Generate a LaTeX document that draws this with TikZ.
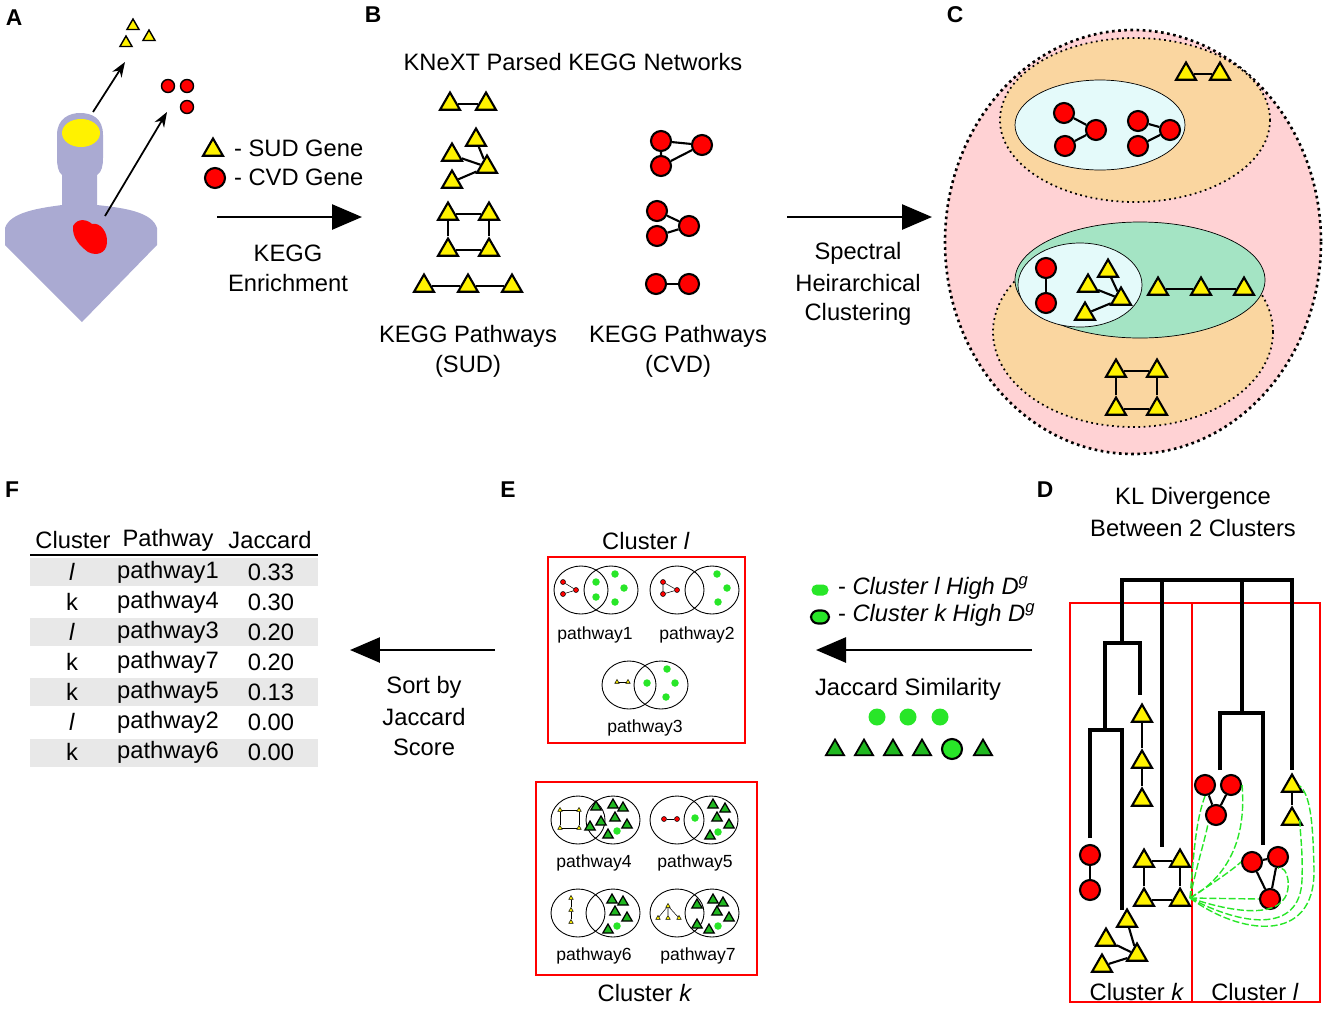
\documentclass[tikz,border=0pt]{standalone}
\usepackage{fontspec}
\setmainfont{Liberation Sans}
\usetikzlibrary{shapes.geometric,arrows.meta,positioning}
\definecolor{body}{RGB}{170,170,210}
\definecolor{pinkbg}{RGB}{255,210,212}
\definecolor{orangebg}{RGB}{250,214,160}
\definecolor{cyanbg}{RGB}{228,250,250}
\definecolor{greenbg}{RGB}{164,228,196}
\definecolor{dotgreen}{RGB}{40,230,40}
\definecolor{rowgray}{RGB}{232,232,232}
\tikzset{
  sud/.style={regular polygon,regular polygon sides=3,draw=black,fill=yellow,line width=1.2pt,minimum size=0.46cm,inner sep=0pt},
  cvd/.style={circle,draw=black,fill=red,line width=1.2pt,minimum size=0.4cm,inner sep=0pt},
  small sud/.style={sud,minimum size=0.28cm,line width=0.8pt},
  small cvd/.style={cvd,minimum size=0.26cm,line width=0.8pt},
  tiny sud/.style={sud,minimum size=0.1cm,line width=0.3pt},
  tiny cvd/.style={cvd,minimum size=0.1cm,line width=0.3pt},
  gtri/.style={regular polygon,regular polygon sides=3,draw=black,fill=dotgreen!80!black,line width=0.7pt,minimum size=0.24cm,inner sep=0pt},
  gdot/.style={circle,fill=dotgreen,minimum size=0.15cm,inner sep=0pt},
  big gdot/.style={circle,fill=dotgreen,minimum size=0.34cm,inner sep=0pt},
  big gtri/.style={gtri,minimum size=0.42cm,line width=1pt},
  edge/.style={line width=1.2pt},
  tiny edge/.style={line width=0.3pt},
  big arrow/.style={line width=1.5pt,-{Triangle[length=0.6cm,width=0.5cm]}},
  panel/.style={font=\bfseries\fontsize{13}{15}\selectfont},
  lbl/.style={font=\fontsize{13.5}{16}\selectfont,inner sep=1pt},
  small lbl/.style={font=\fontsize{10}{12}\selectfont,inner sep=1pt},
  venn/.style={draw=black,line width=0.5pt},
  redbox/.style={draw=red,line width=0.8pt},
  dendro/.style={line width=2.2pt},
  gdash/.style={dotgreen,line width=0.8pt,dash pattern=on 4pt off 1.5pt}
}
\begin{document}
\begin{tikzpicture}[x=0.02cm,y=-0.02cm]
\useasboundingbox (0,0) rectangle (1325,1008);

% A
\node[panel] (labA) at (14,18) {A};
\fill[body] (82,322) -- (5,245) -- (5,228) .. controls (10,212) and (40,208) .. (62,205) -- (62,175) .. controls (58,172) and (57,165) .. (57,158) -- (57,135) .. controls (57,118) and (70,113) .. (80,113) .. controls (92,113) and (103,118) .. (103,135) -- (103,158) .. controls (103,165) and (102,172) .. (97,175) -- (97,205) .. controls (125,208) and (152,212) .. (157,228) -- (157,245) -- cycle;
\fill[yellow] (81,133) ellipse (19 and 14);
\fill[red] (73,226) .. controls (78,217) and (88,220) .. (92,224) .. controls (100,222) and (108,232) .. (107,243) .. controls (106,254) and (96,256) .. (88,252) .. controls (80,246) and (72,238) .. (73,226);
\coordinate (brain) at (93,112);
\coordinate (heart) at (105,216);
\node[small sud] (a1) at (133,26) {};
\node[small sud] (a2) at (149,37) {};
\node[small sud] (a3) at (126,43) {};
\node[small cvd] (a4) at (168,86) {};
\node[small cvd] (a5) at (187,86) {};
\node[small cvd] (a6) at (187,107) {};
\draw[line width=1pt,-{Stealth[length=0.3cm,width=0.22cm]}] (brain) -- (125,62);
\draw[line width=1pt,-{Stealth[length=0.3cm,width=0.22cm]}] (heart) -- (167,112);

\node[sud] (legS) at (213,150) {};
\node[lbl,anchor=west] (legStxt) at (232,148) {- SUD Gene};
\node[cvd] (legC) at (215,178) {};
\node[lbl,anchor=west] (legCtxt) at (232,177) {- CVD Gene};
\coordinate (ab1) at (217,217);
\coordinate (ab2) at (362,217);
\draw[big arrow] (ab1) -- (ab2);
\node[lbl] (kegg) at (288,253) {KEGG};
\node[lbl] (enr) at (288,283) {Enrichment};

% B
\node[panel] (labB) at (373,15) {B};
\node[lbl] (knext) at (573,62) {KNeXT Parsed KEGG Networks};
\node[sud] (b1) at (450,104) {};
\node[sud] (b2) at (486,104) {};
\draw[edge] (b1) -- (b2);
\node[sud] (b3) at (476,140) {};
\node[sud] (b4) at (452,155) {};
\node[sud] (b5) at (487,167) {};
\node[sud] (b6) at (452,182) {};
\draw[edge] (b4) -- (b5) (b3) -- (b5) (b5) -- (b6);
\node[sud] (b7) at (448,214) {};
\node[sud] (b8) at (489,214) {};
\node[sud] (b9) at (448,250) {};
\node[sud] (b10) at (489,250) {};
\draw[edge] (b7) -- (b8) -- (b10) -- (b9) -- (b7);
\node[sud] (b11) at (424,286) {};
\node[sud] (b12) at (468,286) {};
\node[sud] (b13) at (512,286) {};
\draw[edge] (b11) -- (b12) -- (b13);
\node[lbl] (kps) at (468,336) {KEGG Pathways};
\node[lbl] (kps2) at (468,366) {(SUD)};
\node[cvd] (c1) at (661,141) {};
\node[cvd] (c2) at (702,145) {};
\node[cvd] (c3) at (661,166) {};
\draw[edge] (c1) -- (c2) -- (c3) -- (c1);
\node[cvd] (c4) at (657,211) {};
\node[cvd] (c5) at (689,226) {};
\node[cvd] (c6) at (657,236) {};
\draw[edge] (c4) -- (c5) -- (c6);
\node[cvd] (c7) at (656,284) {};
\node[cvd] (c8) at (689,284) {};
\draw[edge] (c7) -- (c8);
\node[lbl] (kpc) at (678,336) {KEGG Pathways};
\node[lbl] (kpc2) at (678,366) {(CVD)};
\coordinate (bc1) at (787,217);
\coordinate (bc2) at (932,217);
\draw[big arrow] (bc1) -- (bc2);
\node[lbl] (spec) at (858,253) {Spectral};
\node[lbl] (heir) at (858,283) {Heirarchical};
\node[lbl] (clus) at (858,314) {Clustering};

% C
\node[panel] (labC) at (955,15) {C};
\filldraw[fill=pinkbg,draw=black,line width=1.5pt,dotted] (1133,242) ellipse (188 and 212);
\filldraw[fill=orangebg,draw=black,line width=1pt,dotted] (1135,120) ellipse (135 and 82);
\filldraw[fill=cyanbg,draw=black,line width=0.4pt] (1100,125) ellipse (85 and 45);
\filldraw[fill=orangebg,draw=black,line width=1pt,dotted] (1133,332) ellipse (140 and 95);
\filldraw[fill=greenbg,draw=black,line width=0.4pt] (1140,280) ellipse (125 and 58);
\filldraw[fill=cyanbg,draw=black,line width=0.4pt] (1080,285) ellipse (62 and 42);
\node[cvd] (u1) at (1064,113) {};
\node[cvd] (u2) at (1096,130) {};
\node[cvd] (u3) at (1065,146) {};
\draw[edge] (u1) -- (u2) -- (u3);
\node[cvd] (u4) at (1138,121) {};
\node[cvd] (u5) at (1170,130) {};
\node[cvd] (u6) at (1138,146) {};
\draw[edge] (u4) -- (u5) -- (u6);
\node[sud] (u7) at (1186,74) {};
\node[sud] (u8) at (1220,74) {};
\draw[edge] (u7) -- (u8);
\node[cvd] (l1) at (1046,268) {};
\node[cvd] (l2) at (1046,303) {};
\draw[edge] (l1) -- (l2);
\node[sud] (l3) at (1108,271) {};
\node[sud] (l4) at (1088,286) {};
\node[sud] (l5) at (1121,299) {};
\node[sud] (l6) at (1085,314) {};
\draw[edge] (l4) -- (l5) (l3) -- (l5) (l5) -- (l6);
\node[sud] (l7) at (1158,289) {};
\node[sud] (l8) at (1201,289) {};
\node[sud] (l9) at (1244,289) {};
\draw[edge] (l7) -- (l8) -- (l9);
\node[sud] (l10) at (1116,371) {};
\node[sud] (l11) at (1157,371) {};
\node[sud] (l12) at (1116,409) {};
\node[sud] (l13) at (1157,409) {};
\draw[edge] (l10) -- (l11) -- (l13) -- (l12) -- (l10);

% F
\node[panel] (labF) at (12,490) {F};
\foreach \y in {572,632,692,753}
  \fill[rowgray] (30,\y-14) rectangle (318,\y+14);
\node[lbl] (h1) at (73,540) {Cluster};
\node[lbl] (h2) at (168,540) {Pathway};
\node[lbl] (h3) at (270,540) {Jaccard};
\draw[line width=0.8pt] (30,555) -- (318,555);
\foreach \c/\p/\v [count=\i] in {\textit{l}/pathway1/0.33,k/pathway4/0.30,\textit{l}/pathway3/0.20,k/pathway7/0.20,k/pathway5/0.13,\textit{l}/pathway2/0.00,k/pathway6/0.00}{
  \node[lbl] (fc\i) at (72,542+30*\i) {\c};
  \node[lbl] (fp\i) at (168,542+30*\i) {\p};
  \node[lbl] (fv\i) at (271,542+30*\i) {\v};
}
\coordinate (fe1) at (495,650);
\coordinate (fe2) at (350,650);
\draw[big arrow] (fe1) -- (fe2);
\node[lbl] (sort1) at (424,687) {Sort by};
\node[lbl] (sort2) at (424,717) {Jaccard};
\node[lbl] (sort3) at (424,747) {Score};

% E
\node[panel] (labE) at (508,490) {E};
\node[lbl] (clE) at (646,541) {Cluster \textit{l}};
\draw[redbox] (548,557) rectangle (745,743);
\draw[redbox] (536,782) rectangle (757,975);
\node[lbl] (clEk) at (645,993) {Cluster \textit{k}};
\foreach \lx/\rx/\y/\n in {581/611/590/1,677/712/590/2,629/661/685/3,578/613/820/4,677/711/820/5,578/613/913/6,677/712/913/7}{
  \draw[venn] (\lx,\y) ellipse (27 and 24);
  \draw[venn] (\rx,\y) ellipse (27 and 24);
}
\foreach \x/\n in {595/1,697/2}
  \node[small lbl] (pl\n) at (\x,635) {pathway\n};
\node[small lbl] (pl3) at (645,728) {pathway3};
\node[small lbl] (pl4) at (594,863) {pathway4};
\node[small lbl] (pl5) at (695,863) {pathway5};
\node[small lbl] (pl6) at (594,956) {pathway6};
\node[small lbl] (pl7) at (698,956) {pathway7};
% green dots
\foreach \x/\y [count=\i] in {596/582,596/597,615/574,624/588,615/602,717/574,727/588,718/602,647/683,667/669,675/683,666/697,617/831,695/818,718/832,617/926,718/926}
  \node[gdot] (gd\i) at (\x,\y) {};
% green triangles
\foreach \x/\y [count=\i] in {596/807,613/805,623/808,601/822,615/818,627/825,590/827,608/835,713/805,725/809,717/818,729/825,710/836,612/900,623/902,615/912,627/918,608/930,697/905,713/900,723/903,717/912,729/918,697/925,709/930}
  \node[gtri] (gt\i) at (\x,\y) {};
% tiny pathway graphs
\node[tiny cvd] (p1a) at (563,582) {};
\node[tiny cvd] (p1b) at (563,594) {};
\node[tiny cvd] (p1c) at (576,590) {};
\draw[tiny edge] (p1a) -- (p1c) -- (p1b);
\node[tiny cvd] (p2a) at (663,582) {};
\node[tiny cvd] (p2b) at (663,594) {};
\node[tiny cvd] (p2c) at (677,590) {};
\draw[tiny edge] (p2a) -- (p2c) -- (p2b) -- (p2a);
\node[tiny sud] (p3a) at (617,682) {};
\node[tiny sud] (p3b) at (628,682) {};
\draw[tiny edge] (p3a) -- (p3b);
\node[tiny sud] (p4a) at (560,810) {};
\node[tiny sud] (p4b) at (579,810) {};
\node[tiny sud] (p4c) at (560,828) {};
\node[tiny sud] (p4d) at (579,828) {};
\draw[tiny edge] (p4a) -- (p4b) -- (p4d) -- (p4c) -- (p4a);
\node[tiny cvd] (p5a) at (664,819) {};
\node[tiny cvd] (p5b) at (677,819) {};
\draw[tiny edge] (p5a) -- (p5b);
\node[tiny sud] (p6a) at (571,898) {};
\node[tiny sud] (p6b) at (571,910) {};
\node[tiny sud] (p6c) at (571,922) {};
\draw[tiny edge] (p6a) -- (p6b) -- (p6c);
\node[tiny sud] (p7a) at (658,918) {};
\node[tiny sud] (p7b) at (668,906) {};
\node[tiny sud] (p7c) at (679,918) {};
\node[tiny sud] (p7d) at (668,918) {};
\draw[tiny edge] (p7a) -- (p7b) -- (p7c) (p7b) -- (p7d);

% E/D legend
\node[fill=dotgreen,rounded corners=3pt,minimum width=0.34cm,minimum height=0.22cm,inner sep=0pt] (legl) at (820,590) {};
\node[lbl,anchor=west] (legltxt) at (836,588) {- \textit{Cluster l High D\textsuperscript{g}}};
\node[fill=dotgreen,draw=black,line width=1.2pt,rounded corners=4pt,minimum width=0.36cm,minimum height=0.26cm,inner sep=0pt] (legk) at (820,617) {};
\node[lbl,anchor=west] (legktxt) at (836,615) {- \textit{Cluster k High D\textsuperscript{g}}};
\coordinate (de1) at (1032,650);
\coordinate (de2) at (816,650);
\draw[big arrow] (de1) -- (de2);
\node[lbl] (jacs) at (908,689) {Jaccard Similarity};
\foreach \x [count=\i] in {877,908,940}
  \node[big gdot] (jd\i) at (\x,717) {};
\foreach \x [count=\i] in {835,864,893,922,983}
  \node[big gtri] (jt\i) at (\x,750) {};
\node[circle,fill=dotgreen,draw=black,line width=1.2pt,minimum size=0.4cm,inner sep=0pt] (jk) at (952,749) {};

% D
\node[panel] (labD) at (1045,490) {D};
\node[lbl] (kl1) at (1193,498) {KL Divergence};
\node[lbl] (kl2) at (1193,528) {Between 2 Clusters};
\draw[redbox,line width=0.6pt] (1070,603) rectangle (1192,1002);
\draw[redbox,line width=0.6pt] (1192,603) rectangle (1320,1002);
\draw[dendro] (1122,643) |- (1292,580) -- (1292,770);
\draw[dendro] (1162,580) -- (1162,847);
\draw[dendro] (1242,580) -- (1242,713);
\draw[dendro] (1105,730) |- (1140,643) -- (1140,695);
\draw[dendro] (1090,838) |- (1122,730) -- (1122,910);
\draw[dendro] (1220,770) |- (1263,713) -- (1263,845);
\node[sud] (d1) at (1142,716) {};
\node[sud] (d2) at (1142,762) {};
\node[sud] (d3) at (1142,800) {};
\draw[edge] (d1) -- (d2) -- (d3);
\node[cvd] (d4) at (1090,855) {};
\node[cvd] (d5) at (1090,890) {};
\draw[edge] (d4) -- (d5);
\node[sud] (d6) at (1144,861) {};
\node[sud] (d7) at (1180,861) {};
\node[sud] (d8) at (1144,900) {};
\node[sud] (d9) at (1180,900) {};
\draw[edge] (d6) -- (d7) -- (d9) -- (d8) -- (d6);
\node[sud] (d10) at (1127,921) {};
\node[sud] (d11) at (1106,940) {};
\node[sud] (d12) at (1137,955) {};
\node[sud] (d13) at (1102,966) {};
\draw[edge] (d11) -- (d12) (d10) -- (d12) (d12) -- (d13);
\node[cvd] (d14) at (1205,785) {};
\node[cvd] (d15) at (1231,785) {};
\node[cvd] (d16) at (1216,815) {};
\draw[edge] (d14) -- (d16) -- (d15);
\node[sud] (d17) at (1292,786) {};
\node[sud] (d18) at (1292,819) {};
\draw[edge] (d17) -- (d18);
\node[cvd] (d19) at (1252,862) {};
\node[cvd] (d20) at (1278,857) {};
\node[cvd] (d21) at (1270,899) {};
\draw[edge] (d20) -- (d19) -- (d21) -- (d20);
% green dashed links
\coordinate (dsrc) at (1190,898);
\draw[gdash] (dsrc) .. controls (1194,850) and (1196,820) .. (d14.south);
\draw[gdash] (dsrc) .. controls (1198,860) and (1205,840) .. (d16.south west);
\draw[gdash] (dsrc) .. controls (1210,885) and (1230,872) .. (d19.west);
\draw[gdash] (dsrc) -- (d21.west);
\draw[gdash] (dsrc) .. controls (1240,870) and (1245,820) .. (d15.east);
\draw[gdash] (dsrc) .. controls (1240,915) and (1292,920) .. (1288,880) .. controls (1286,870) and (1284,868) .. (d20.south);
\draw[gdash] (dsrc) .. controls (1240,925) and (1300,935) .. (1302,880) .. controls (1303,850) and (1300,835) .. (d18.east);
\draw[gdash] (dsrc) .. controls (1240,935) and (1315,945) .. (1314,870) .. controls (1313,820) and (1310,795) .. (d17.east);
\node[lbl] (clDk) at (1137,992) {Cluster \textit{k}};
\node[lbl] (clDl) at (1255,992) {Cluster \textit{l}};
\end{tikzpicture}
\end{document}
